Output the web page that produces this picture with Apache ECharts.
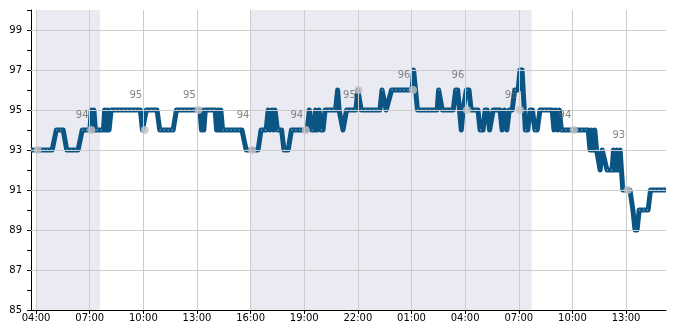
<!DOCTYPE html>
<html>
<head>
<meta charset="utf-8">
<script src="https://cdn.jsdelivr.net/npm/echarts@6/dist/echarts.min.js"></script>
<style>
html,body{margin:0;padding:0;background:#fff;}
#chart{width:685px;height:330px;}
</style>
</head>
<body>
<div id="chart"></div>
<script>
// x values are minutes since 00:00 of day 1
const xTickMinutes = [240, 420, 600, 780, 960, 1140, 1320, 1500, 1680, 1860, 2040, 2220];
const yTickLabels = [85, 87, 89, 91, 93, 95, 97, 99];
const nightBands = [[240, 455], [960, 1903]];

const spo2Times = [
  223, 294, 308, 331, 343, 381, 395, 421, 425, 430, 434, 439, 444, 466, 470, 475, 480, 485, 492,
  590, 597, 603, 610, 646, 655, 700, 711, 790, 795, 799, 803, 808, 841, 846, 851, 856, 860, 866, 931,
  945, 985, 995, 1012, 1019, 1025, 1032, 1037, 1042, 1050, 1064, 1072, 1086, 1097, 1150, 1157, 1165,
  1172, 1178, 1184, 1190, 1196, 1203, 1210, 1245, 1252, 1257, 1270, 1282, 1313, 1320, 1324, 1331,
  1394, 1401, 1406, 1415, 1421, 1433, 1502, 1507, 1512, 1520, 1586, 1591, 1596, 1603, 1640, 1648,
  1655, 1661, 1667, 1673, 1684, 1693, 1700, 1723, 1730, 1740, 1747, 1754, 1762, 1774, 1797, 1804,
  1812, 1820, 1828, 1838, 1846, 1858, 1864, 1871, 1882, 1890, 1898, 1906, 1914, 1922, 1931, 1972,
  1978, 1984, 1991, 1996, 2003, 2093, 2099, 2104, 2110, 2115, 2121, 2126, 2133, 2140, 2146, 2156,
  2173, 2178, 2183, 2189, 2194, 2200, 2209, 2233, 2243, 2250, 2257, 2264, 2294, 2302, 2354
];
const spo2Values = [
  93, 93, 94, 94, 93, 93, 94, 94, 95, 94, 95, 94, 94, 94, 95, 94, 95, 94, 95,
  95, 94, 94, 95, 95, 94, 94, 95, 95, 94, 95, 94, 95, 95, 94, 95, 94, 95, 94, 94,
  93, 93, 94, 94, 95, 94, 95, 94, 95, 94, 94, 93, 93, 94, 94, 95, 94,
  94, 95, 94, 95, 94, 94, 95, 95, 96, 95, 94, 95, 95, 96, 96, 95,
  95, 96, 96, 95, 95, 96, 96, 97, 97, 95, 95, 96, 96, 95, 95, 96,
  96, 95, 94, 95, 96, 96, 95, 95, 94, 94, 95, 95, 94, 95, 95, 94,
  95, 94, 95, 95, 96, 96, 97, 97, 94, 94, 95, 95, 94, 94, 95, 95,
  94, 95, 94, 95, 94, 94, 93, 94, 93, 94, 93, 93, 92, 93, 93, 92,
  92, 93, 92, 93, 92, 93, 91, 91, 90, 89, 89, 90, 90, 91, 91
];

const sampleTimes = [245, 425, 605, 785, 965, 1145, 1322, 1505, 1686, 1864, 2045, 2226];
const sampleValues = [93, 94, 94, 95, 93, 94, 96, 96, 95, 95, 94, 91];
const sampleLabels = [null, 94, 95, 95, 94, 94, 95, 96, 96, 95, 94, 93];

const lineData = spo2Times.map((t, i) => [t, spo2Values[i]]);
// white dotted highlight only along flat stretches
const flatData = [];
for (let i = 0; i < spo2Times.length - 1; i++) {
  if (spo2Values[i] === spo2Values[i + 1]) {
    flatData.push([spo2Times[i], spo2Values[i]], [spo2Times[i + 1], spo2Values[i + 1]], null);
  }
}
const dotData = sampleTimes.map((t, i) => [t, sampleValues[i]]);
const labelData = [];
sampleTimes.forEach((t, i) => { if (sampleLabels[i] != null) labelData.push([t, sampleLabels[i]]); });

function fmtTime(v) {
  const m = ((Math.round(v) % 1440) + 1440) % 1440;
  const h = Math.floor(m / 60), mm = m % 60;
  return (h < 10 ? '0' : '') + h + ':' + (mm < 10 ? '0' : '') + mm;
}

const FONT = 'DejaVu Sans';
const chart = echarts.init(document.getElementById('chart'), null, {renderer: 'canvas'});
chart.setOption({
  animation: false,
  backgroundColor: '#ffffff',
  grid: {left: 31, right: 19, top: 10, bottom: 20, containLabel: false},
  xAxis: {
    type: 'value',
    min: 223,
    max: 2354,
    axisLine: {show: true, lineStyle: {color: '#000', width: 1}},
    axisTick: {show: true, length: 4, lineStyle: {color: '#000'}, customValues: xTickMinutes},
    axisLabel: {show: true, customValues: xTickMinutes, formatter: fmtTime, fontFamily: FONT, fontSize: 10, color: '#000', margin: 3},
    splitLine: {show: false}
  },
  yAxis: {
    type: 'value',
    min: 85,
    max: 100,
    interval: 1,
    axisLine: {show: true, lineStyle: {color: '#000', width: 1}},
    axisTick: {show: true, length: 4, lineStyle: {color: '#000'}},
    axisLabel: {
      show: true, fontFamily: FONT, fontSize: 10, color: '#000', margin: 9,
      formatter: v => (yTickLabels.indexOf(v) >= 0 ? String(v) : '')
    },
    splitLine: {show: false}
  },
  series: [
    {
      type: 'line', data: [], z: 0, silent: true,
      markArea: {
        silent: true,
        itemStyle: {color: '#eaeaf2'},
        data: nightBands.map(b => [{xAxis: b[0]}, {xAxis: b[1]}])
      }
    },
    {
      type: 'line', data: [], z: 1, silent: true,
      markLine: {
        silent: true, symbol: 'none', animation: false,
        label: {show: false},
        lineStyle: {color: '#cccccc', width: 1, type: 'solid'},
        data: xTickMinutes.map(v => ({xAxis: v})).concat(yTickLabels.filter(v => v > 85).map(v => ({yAxis: v})))
      }
    },
    {
      type: 'line', data: lineData, z: 3, showSymbol: false, silent: true,
      lineStyle: {color: '#0b5585', width: 5, join: 'round', cap: 'butt'}
    },
    {
      type: 'line', data: flatData, z: 4, showSymbol: false, silent: true, connectNulls: false,
      lineStyle: {color: '#ffffff', width: 1, type: [1, 3], opacity: 0.75}
    },
    {
      type: 'scatter', data: dotData, z: 5, symbolSize: 8, silent: true,
      itemStyle: {color: '#c4c4c4'}
    },
    {
      type: 'scatter', data: labelData, z: 6, symbolSize: 0, silent: true,
      label: {
        show: true, position: 'inside', offset: [-9, -15],
        formatter: p => String(p.value[1]),
        fontFamily: FONT, fontSize: 10, color: '#666666'
      }
    }
  ]
});
</script>
</body>
</html>
